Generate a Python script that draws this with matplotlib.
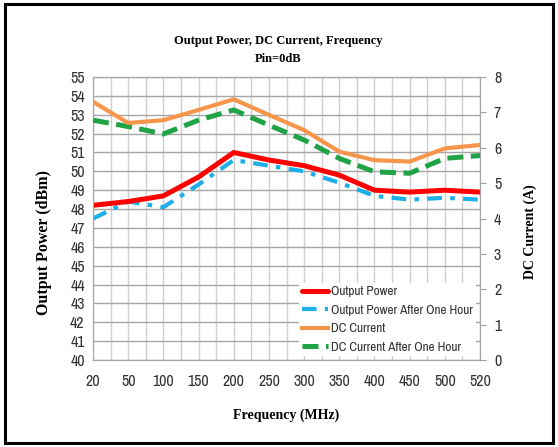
import matplotlib
matplotlib.use("Agg")
import matplotlib.pyplot as plt
from matplotlib.patches import Rectangle
from matplotlib import font_manager as fm
import numpy as np
import os

freq_labels = ["20", "50", "100", "150", "200", "250", "300", "350", "400", "450", "500", "520"]
output_power = [48.2, 48.4, 48.7, 49.7, 51.0, 50.6, 50.3, 49.8, 49.0, 48.9, 49.0, 48.9]
output_power_1h = [47.5, 48.4, 48.1, 49.3, 50.6, 50.3, 50.0, 49.4, 48.7, 48.5, 48.6, 48.5]
dc_current = [7.30, 6.70, 6.78, 7.07, 7.37, 6.93, 6.50, 5.89, 5.65, 5.61, 5.98, 6.08]
dc_current_1h = [6.78, 6.60, 6.39, 6.78, 7.07, 6.64, 6.22, 5.70, 5.32, 5.28, 5.70, 5.78]

cands = []
for f in fm.fontManager.ttflist:
    base = os.path.basename(f.fname)
    if ("Condensed" in base or "Narrow" in base) and not any(k in base for k in ("Bold", "Oblique", "Italic", "Light", "Black", "Semi", "Medium", "Thin", "Extra")):
        cands.append(f.fname)
cands.sort(key=lambda p: (0 if "Narrow" in p else 1, len(os.path.basename(p))))
if cands:
    tick_prop = dict(fname=cands[0])
else:
    tick_prop = dict(family="DejaVu Sans", stretch="condensed")
serif = ["Liberation Serif", "DejaVu Serif"]

def fp(size):
    return fm.FontProperties(size=size, **tick_prop)

fig = plt.figure(figsize=(5.58, 4.47), dpi=100)
ax = fig.add_axes([0.1667, 0.1946, 0.6935, 0.6331])
ax2 = ax.twinx()

x = np.arange(len(freq_labels))
l1, = ax.plot(x, output_power, color="#FF0000", lw=3.6, solid_capstyle="round", zorder=5)
l2, = ax.plot(x, output_power_1h, color="#1EAEE8", lw=3.0, dashes=(3.5, 2.0, 1.1, 2.0), zorder=4)
l3, = ax2.plot(x, dc_current, color="#F7964A", lw=3.0, zorder=5)
l4, = ax2.plot(x, dc_current_1h, color="#1FA346", lw=3.6, dashes=(3.2, 1.5), zorder=4)

ax.set_xlim(0, len(freq_labels) - 1)
ax.set_ylim(40, 55)
ax2.set_ylim(0, 8)
ax.set_xticks(x)
ax.set_xticklabels(freq_labels)
ax.set_xticks(np.arange(0, len(freq_labels) - 0.5, 0.5), minor=True)
ax.set_yticks(np.arange(40, 56, 1))
ax.tick_params(axis="y", length=0, pad=6)
ax.tick_params(axis="x", which="both", length=0, pad=10)
ax2.set_yticks(np.arange(0, 9, 1))
ax2.tick_params(axis="y", length=4, color="#A0A0A0", pad=6)
for lab in ax.get_yticklabels() + ax.get_xticklabels() + ax2.get_yticklabels():
    lab.set_fontproperties(fp(11.5))
    lab.set_color("#333333")

ax.grid(True, which="major", axis="y", color="#A6A6A6", lw=1.0)
ax.grid(True, which="both", axis="x", color="#CFCFCF", lw=1.0)
ax.set_axisbelow(True)
for s in ["left", "bottom", "right", "top"]:
    ax.spines[s].set_color("#A6A6A6")
    ax2.spines[s].set_color("#A6A6A6")

ax.set_xlabel("Frequency (MHz)", family=serif, fontweight="bold", fontsize=10, labelpad=14)
ax.set_ylabel("Output Power (dBm)", family=serif, fontweight="bold", fontsize=11.5)
ax.yaxis.set_label_coords(-0.106, 0.417)
ax2.set_ylabel("DC Current (A)", family=serif, fontweight="bold", fontsize=10)
ax2.yaxis.set_label_coords(1.112, 0.452)

fig.text(0.498, 0.908, "Output Power, DC Current, Frequency", ha="center", va="center",
         family=serif, fontweight="bold", fontsize=9.0)
fig.text(0.498, 0.867, "Pin=0dB", ha="center", va="center",
         family=serif, fontweight="bold", fontsize=9.0)

ax2.set_zorder(ax.get_zorder() + 1)
ax2.patch.set_visible(False)
leg = ax2.legend([l1, l2, l3, l4],
                 ["Output Power", "Output Power After One Hour", "DC Current", "DC Current After One Hour"],
                 loc="lower right", bbox_to_anchor=(1.0, 0.0), frameon=True, fancybox=False,
                 edgecolor="none", facecolor="white", framealpha=1.0,
                 prop=fp(9.5), handlelength=2.0, handletextpad=0.2,
                 labelspacing=0.55, borderpad=0.25, borderaxespad=0.3)
for t in leg.get_texts():
    t.set_color("#333333")

fig.patches.append(Rectangle((0.009, 0.009), 0.982, 0.982, transform=fig.transFigure,
                             fill=False, edgecolor="black", lw=2.2))

fig.savefig("out.png", dpi=100)
